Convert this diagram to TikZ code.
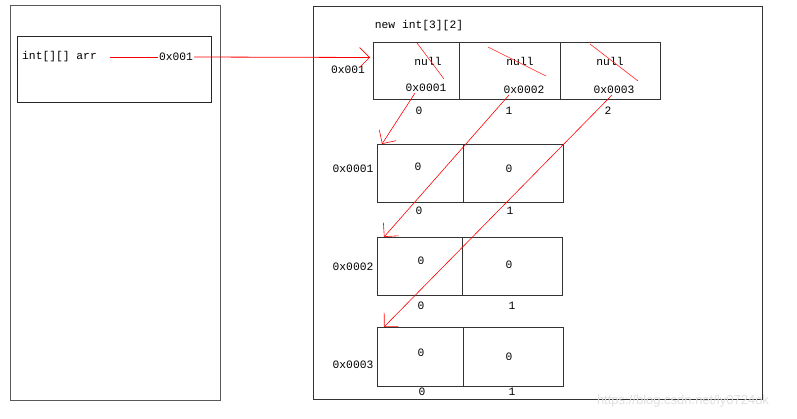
\documentclass[tikz,border=0pt]{standalone}
\usepackage{fontspec}
\newfontfamily\monof{Liberation Mono}
\newfontfamily\sansf{Liberation Sans}
\usetikzlibrary{arrows.meta}
\begin{document}
\begin{tikzpicture}[x=1pt,y=-1pt,
  frame/.style={draw=black!65, line width=1pt, inner sep=0pt, anchor=north west},
  box/.style={draw=black!85, line width=1pt, inner sep=0pt, anchor=north west},
  cell/.style={draw=black!80, line width=1pt, inner sep=0pt, anchor=north west},
  txt/.style={font=\monof\fontsize{11.3}{13}\selectfont, inner sep=1pt, text=black},
  redline/.style={draw=red, line width=0.8pt},
  redarrow/.style={draw=red, line width=0.6pt, -{Straight Barb[length=10pt,width=20pt,line width=0.6pt]}},
  strike/.style={draw=red!85, line width=0.6pt}]
\useasboundingbox (0,0) rectangle (797,419);
\fill[white] (0,0) rectangle (797,419);

% stack frame
\node[frame, minimum width=210pt, minimum height=395pt] (stack) at (10,5) {};
\node[box, minimum width=194pt, minimum height=66pt] (var) at (17,36) {};
\node[txt, anchor=west] (arr) at (21,57) {int[][] arr};
\node[txt] (addr) at (176,57) {0x001};
\draw[redline] (110,57) -- (addr.west);

% heap
\node[frame, draw=black!80, minimum width=449pt, minimum height=393pt] (heap) at (313,6) {};
\node[txt] (newlbl) at (419,26) {new int[3][2]};

% outer array
\node[cell, minimum width=86pt, minimum height=57pt] (a0) at (373,42) {};
\node[cell, minimum width=101pt, minimum height=57pt] (a1) at (459,42) {};
\node[cell, minimum width=100pt, minimum height=57pt] (a2) at (560,42) {};
\node[txt] (albl) at (348,70) {0x001};
\node[txt] (n0) at (428,61) {null};
\node[txt] (n1) at (520,61) {null};
\node[txt] (n2) at (610,61) {null};
\node[txt] (p0) at (426,88) {0x0001};
\node[txt] (p1) at (524,90) {0x0002};
\node[txt] (p2) at (614,90) {0x0003};
\node[txt] (i0) at (419,111) {0};
\node[txt] (i1) at (509,111) {1};
\node[txt] (i2) at (608,111) {2};
\draw[strike] (417,43) -- (444,79);
\draw[strike] (488,47) -- (546,76);
\draw[strike] (590,44) -- (638,81);

% inner array 0x0001
\node[cell, minimum width=86pt, minimum height=58pt] (b0) at (377,144) {};
\node[cell, minimum width=100pt, minimum height=58pt] (b1) at (463,144) {};
\node[txt] (blbl) at (353,169) {0x0001};
\node[txt] (bv0) at (418,167) {0};
\node[txt] (bv1) at (509,169) {0};
\node[txt] (bi0) at (419,211) {0};
\node[txt] (bi1) at (510,211) {1};

% inner array 0x0002
\node[cell, minimum width=85pt, minimum height=58pt] (c0) at (377,237) {};
\node[cell, minimum width=100pt, minimum height=58pt] (c1) at (462,237) {};
\node[txt] (clbl) at (353,267) {0x0002};
\node[txt] (cv0) at (421,261) {0};
\node[txt] (cv1) at (509,265) {0};
\node[txt] (ci0) at (421,306) {0};
\node[txt] (ci1) at (512,306) {1};

% inner array 0x0003
\node[cell, minimum width=86pt, minimum height=59pt] (d0) at (377,327) {};
\node[cell, minimum width=100pt, minimum height=59pt] (d1) at (463,327) {};
\node[txt] (dlbl) at (353,365) {0x0003};
\node[txt] (dv0) at (421,353) {0};
\node[txt] (dv1) at (509,357) {0};
\node[txt] (di0) at (422,392) {0};
\node[txt] (di1) at (512,392) {1};

% pointers
\draw[redarrow, line width=0.8pt] (addr.east) -- ([xshift=-3pt,yshift=13.5pt]a0.west);
\draw[redarrow] ([xshift=-11pt]p0.south) -- ([xshift=5pt]b0.north west);
\draw[redarrow] ([xshift=-15pt]p1.south) -- ([xshift=7pt]c0.north west);
\draw[redarrow] ([xshift=-2pt]p2.south) -- ([xshift=7pt]d0.north west);

% watermark
\node[font=\sansf\fontsize{13}{15}\selectfont, text=black!12, inner sep=0pt] (wm) at (683,401) {https://blog.csdn.net/ly0724ok};
\end{tikzpicture}
\end{document}
